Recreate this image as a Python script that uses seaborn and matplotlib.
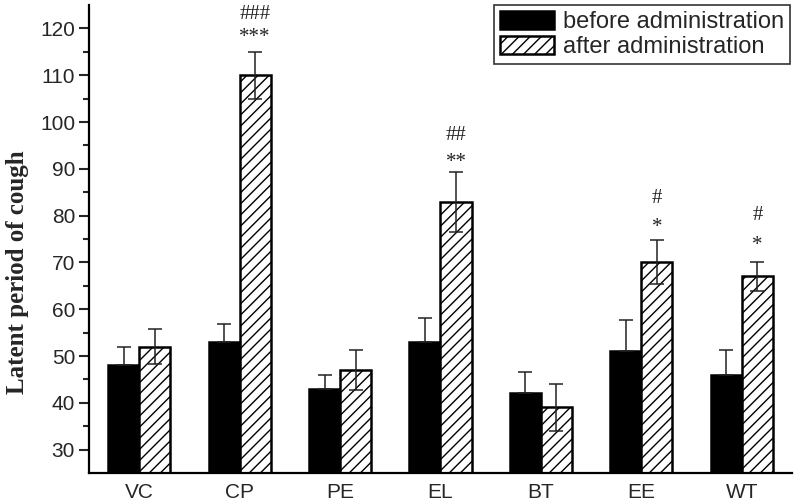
import matplotlib
matplotlib.use("Agg")
import matplotlib.pyplot as plt
import seaborn as sns
import pandas as pd
import numpy as np

categories = ["VC", "CP", "PE", "EL", "BT", "EE", "WT"]
before_vals = [48, 53, 43, 53, 42, 51, 46]
after_vals = [52, 110, 47, 83, 39, 70, 67]
before_err = [4.0, 3.8, 3.0, 5.1, 4.5, 6.6, 5.2]
after_err = [3.8, 5.0, 4.2, 6.4, 5.1, 4.7, 3.1]
series_names = ["before administration", "after administration"]
stars = ["", "***", "", "**", "", "*", "*"]
star_y = [0, 117.0, 0, 90.3, 0, 76.5, 72.6]
hashes = ["", "###", "", "##", "", "#", "#"]
hash_y = [0, 122.1, 0, 96.2, 0, 82.7, 79.1]

df = pd.DataFrame({
    "cat": categories * 2,
    "val": before_vals + after_vals,
    "grp": [series_names[0]] * 7 + [series_names[1]] * 7,
})

sns.set_theme(style="white")
plt.rcParams["font.family"] = ["Liberation Sans", "DejaVu Sans"]
plt.rcParams["hatch.linewidth"] = 1.0

fig = plt.figure(figsize=(7.97, 5.04), dpi=100)
ax = fig.add_axes([89 / 797, 1 - 473 / 504, (792 - 89) / 797, (473 - 5) / 504])

sns.barplot(data=df, x="cat", y="val", hue="grp", order=categories,
            hue_order=series_names, palette=["black", "white"],
            width=0.62, edgecolor="black", linewidth=1.8, errorbar=None,
            ax=ax, legend=True)

containers = ax.containers
for bar in containers[1]:
    bar.set_hatch("///")
    bar.set_edgecolor("black")

for i, (cont, errs) in enumerate(zip(containers, [before_err, after_err])):
    xs = [b.get_x() + b.get_width() / 2 for b in cont]
    hs = [b.get_height() for b in cont]
    lower = np.zeros(len(errs)) if i == 0 else np.array(errs)
    ax.errorbar(xs, hs, yerr=[lower, np.array(errs)], fmt="none",
                ecolor="#222222", elinewidth=1.1, capsize=5, capthick=1.1,
                zorder=5)

after_x = [b.get_x() + b.get_width() / 2 for b in containers[1]]
for x, s, sy, h, hy in zip(after_x, stars, star_y, hashes, hash_y):
    if s:
        ax.text(x, sy, s, ha="center", va="baseline", fontsize=15,
                family=["Liberation Serif"], color="#222222")
    if h:
        ax.text(x, hy, h, ha="center", va="baseline", fontsize=15,
                family=["Liberation Serif"], color="#222222")

ax.set_ylim(25, 125)
ax.set_xlim(-0.5, 6.5)
ax.set_yticks(np.arange(30, 121, 10))
ax.set_yticks(np.arange(35, 125, 10), minor=True)
ax.tick_params(axis="y", which="major", direction="out", length=7, width=1.5,
               labelsize=15, left=True, pad=3)
ax.tick_params(axis="y", which="minor", direction="out", length=4, width=1.5,
               left=True)
ax.tick_params(axis="x", length=0, labelsize=15, pad=7)
ax.set_xlabel("")
ax.set_ylabel("Latent period of cough", fontsize=18, fontweight="bold",
              family=["Liberation Serif"])
ax.yaxis.set_label_coords(-0.085, 0.43)

for side in ["top", "right"]:
    ax.spines[side].set_visible(False)
for side in ["left", "bottom"]:
    ax.spines[side].set_linewidth(1.6)
    ax.spines[side].set_color("black")

leg = ax.legend(loc="upper right", bbox_to_anchor=(1.0, 1.005), fontsize=17,
                frameon=True, fancybox=False, edgecolor="black",
                handlelength=2.3, handleheight=0.8, handletextpad=0.35,
                borderpad=0.25, labelspacing=0.1, borderaxespad=0.1)
leg.get_frame().set_linewidth(1.2)
for patch in leg.get_patches():
    patch.set_edgecolor("black")
leg.get_patches()[1].set_hatch("///")

fig.savefig("out.png", dpi=100)
